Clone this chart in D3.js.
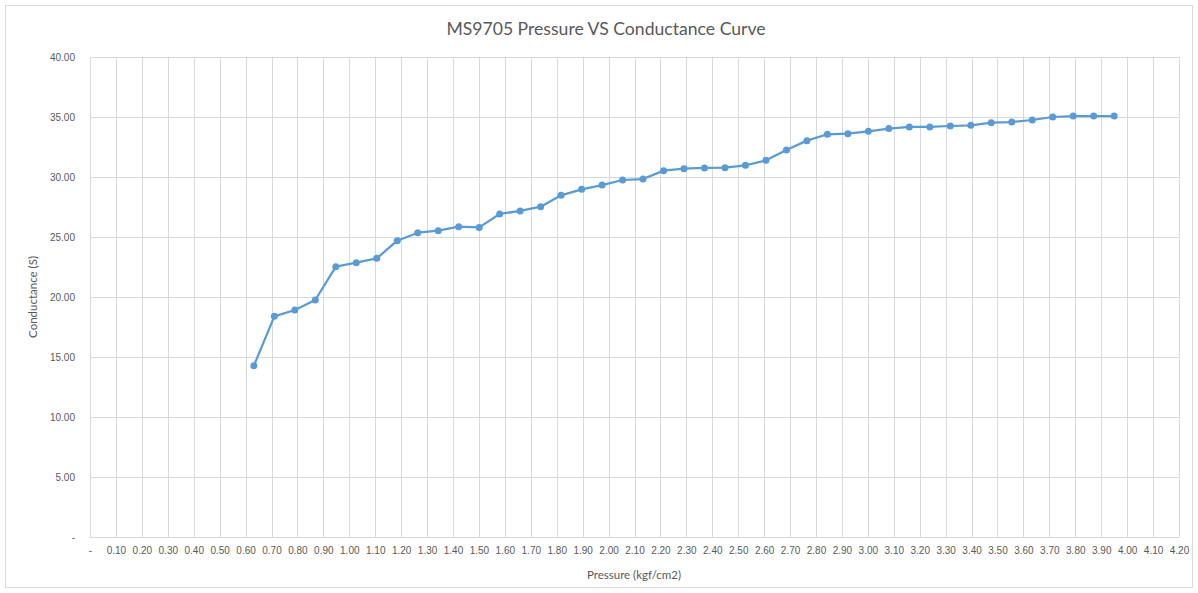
<!DOCTYPE html>
<html>
<head>
<meta charset="utf-8">
<script src="https://cdn.jsdelivr.net/npm/d3@7"></script>
<style>
  body { margin: 0; background: #fff; }
  svg { display: block; font-family: Lato, "Open Sans", sans-serif; }
  .grid line { stroke: #d9d9d9; stroke-width: 1; shape-rendering: crispEdges; }
  .tick-label { fill: #595959; font-size: 10px; }
</style>
</head>
<body>
<svg id="grafico"></svg>
<script>
// Pressão (kgf/cm2) e condutância (S)
const pressure = [
  0.632, 0.711, 0.790, 0.869, 0.948, 1.027, 1.106, 1.185, 1.264, 1.343, 1.422,
  1.501, 1.580, 1.659, 1.738, 1.817, 1.896, 1.975, 2.054, 2.133, 2.212, 2.291,
  2.370, 2.449, 2.528, 2.607, 2.686, 2.765, 2.844, 2.923, 3.002, 3.081, 3.160,
  3.239, 3.318, 3.397, 3.476, 3.555, 3.634, 3.713, 3.792, 3.871, 3.950
];
const conductance = [
  14.28, 18.39, 18.92, 19.75, 22.53, 22.86, 23.22, 24.69, 25.36, 25.53, 25.86,
  25.80, 26.92, 27.17, 27.53, 28.47, 28.97, 29.33, 29.75, 29.83, 30.53, 30.69,
  30.76, 30.78, 30.97, 31.39, 32.25, 33.03, 33.56, 33.61, 33.81, 34.04, 34.17,
  34.17, 34.25, 34.31, 34.53, 34.58, 34.75, 35.00, 35.08, 35.08, 35.08
];
const xTicks = [
  0, 0.1, 0.2, 0.3, 0.4, 0.5, 0.6, 0.7, 0.8, 0.9, 1.0, 1.1, 1.2, 1.3, 1.4,
  1.5, 1.6, 1.7, 1.8, 1.9, 2.0, 2.1, 2.2, 2.3, 2.4, 2.5, 2.6, 2.7, 2.8, 2.9,
  3.0, 3.1, 3.2, 3.3, 3.4, 3.5, 3.6, 3.7, 3.8, 3.9, 4.0, 4.1, 4.2
];
const yTicks = [0, 5, 10, 15, 20, 25, 30, 35, 40];

const W = 1198, H = 593;
const margin = { left: 90, right: 19, top: 57, bottom: 56 };

const svg = d3.select('#grafico').attr('width', W).attr('height', H);

// borda da área do gráfico
svg.append('rect')
  .attr('x', 5.5).attr('y', 5.5)
  .attr('width', W - 11).attr('height', H - 11)
  .attr('fill', '#fff').attr('stroke', '#d9d9d9');

const x = d3.scaleLinear().domain([0, 4.2]).range([margin.left, W - margin.right]);
const y = d3.scaleLinear().domain([0, 40]).range([H - margin.bottom, margin.top]);

const fmt = v => v === 0 ? '-' : d3.format('.2f')(v);

// grades
const grid = svg.append('g').attr('class', 'grid');
grid.selectAll('line.v').data(xTicks).enter().append('line')
  .attr('x1', d => Math.round(x(d)) + 0.5).attr('x2', d => Math.round(x(d)) + 0.5)
  .attr('y1', y(0)).attr('y2', y(40));
grid.selectAll('line.h').data(yTicks).enter().append('line')
  .attr('x1', x(0)).attr('x2', x(4.2))
  .attr('y1', d => Math.round(y(d)) + 0.5).attr('y2', d => Math.round(y(d)) + 0.5);

// eixos (só rótulos)
const xAxis = d3.axisBottom(x).tickValues(xTicks).tickFormat(fmt).tickSize(0).tickPadding(0);
const yAxis = d3.axisLeft(y).tickValues(yTicks).tickFormat(fmt).tickSize(0).tickPadding(0);

const gx = svg.append('g').attr('transform', `translate(0,${y(0) + 10})`).call(xAxis);
const gy = svg.append('g').attr('transform', `translate(${x(0) - 15},0)`).call(yAxis);
[gx, gy].forEach(g => {
  g.select('.domain').remove();
  g.selectAll('text').attr('class', 'tick-label').attr('font-family', null).attr('font-size', null);
});

// linha e marcadores
const pts = pressure.map((p, i) => [p, conductance[i]]);
svg.append('path')
  .datum(pts)
  .attr('fill', 'none')
  .attr('stroke', '#5b9bd5')
  .attr('stroke-width', 2.25)
  .attr('stroke-linejoin', 'round')
  .attr('d', d3.line().x(d => x(d[0])).y(d => y(d[1])));

svg.selectAll('circle.pt').data(pts).enter().append('circle')
  .attr('class', 'pt')
  .attr('cx', d => x(d[0])).attr('cy', d => y(d[1]))
  .attr('r', 3.5)
  .attr('fill', '#5b9bd5');

// títulos
svg.append('text')
  .attr('x', 606).attr('y', 35)
  .attr('text-anchor', 'middle')
  .attr('fill', '#595959').attr('font-size', 17.6)
  .text('MS9705 Pressure VS Conductance Curve');

svg.append('text')
  .attr('transform', `translate(37,${(y(0) + y(40)) / 2}) rotate(-90)`)
  .attr('text-anchor', 'middle')
  .attr('fill', '#595959').attr('font-size', 11.5)
  .text('Conductance (S)');

svg.append('text')
  .attr('x', 634).attr('y', 579)
  .attr('text-anchor', 'middle')
  .attr('fill', '#595959').attr('font-size', 11.5)
  .text('Pressure (kgf/cm2)');
</script>
</body>
</html>
